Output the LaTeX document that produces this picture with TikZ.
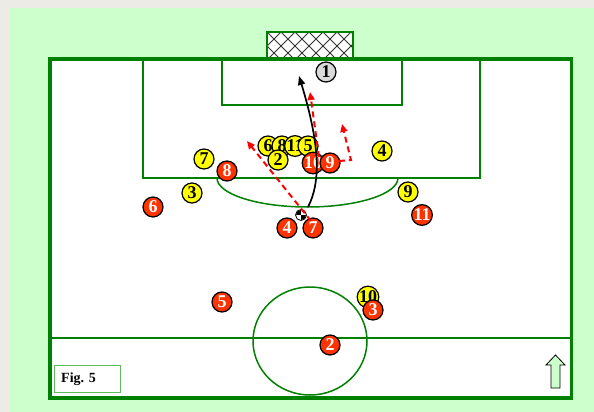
\documentclass[tikz,border=0pt]{standalone}
\usepackage{fontspec}
\setmainfont{Liberation Serif}
\usetikzlibrary{arrows.meta}
\definecolor{bggray}{HTML}{ECEBE6}
\definecolor{lgreen}{HTML}{CCFFCC}
\definecolor{fgreen}{HTML}{008000}
\definecolor{boxgreen}{HTML}{5DBB5D}
\definecolor{pyel}{HTML}{FFFF00}
\definecolor{pred}{HTML}{FF3300}
\definecolor{pgray}{HTML}{D9D9D9}
\definecolor{dred}{HTML}{FF0000}
\begin{document}
\begin{tikzpicture}[x=1pt,y=-1pt,
 player/.style={circle,draw=black,line width=1.2pt,minimum size=20pt,inner sep=0pt,font=\fontsize{18}{18}\selectfont\bfseries},
 yelp/.style={player,fill=pyel,text=black},
 redp/.style={player,fill=pred,text=white},
 grayp/.style={player,fill=pgray,text=black},
 fline/.style={draw=fgreen,line width=1.5pt},
 run/.style={draw=dred,line width=2pt,dash pattern=on 6pt off 4pt,-{Triangle[length=8pt,width=7pt]}},
 shot/.style={draw=black,line width=1.7pt,-{Triangle[length=9pt,width=7pt]}}]
\useasboundingbox (0,0) rectangle (594,412);
% backgrounds
\fill[bggray] (0,0) rectangle (594,412);
\fill[lgreen] (10,8) rectangle (594,412);
% goal
\fill[white] (267,32) rectangle (353,59);
\begin{scope}
\clip (267,32) rectangle (353,59);
\foreach \i in {-3,...,8} {
  \draw[black!80,line width=0.8pt] (267+\i*14,32) -- ++(28,28);
  \draw[black!80,line width=0.8pt] (267+\i*14,60) -- ++(28,-28);
}
\end{scope}
\draw[fline] (267,59) -- (267,32) -- (353,32) -- (353,59);
% field
\fill[white] (50,59) rectangle (571.5,398);
\begin{scope}
\clip (50,59) rectangle (571.5,398);
\draw[fline] (310,341) ellipse [x radius=57, y radius=54];
\end{scope}
\draw[fline] (143,59) rectangle (480,178);
\draw[fline] (222,59) rectangle (402,105);
\draw[fline] (50,338) -- (571.5,338);
\draw[fline] (217,178) arc [start angle=180, end angle=360, x radius=90.5, y radius=-29];
\draw[draw=fgreen,line width=3.5pt] (50,59) rectangle (571.5,398);
% figure label
\draw[draw=boxgreen,line width=1pt,fill=white] (54,365) rectangle (120,392);
\node[anchor=west,inner sep=0pt,font=\fontsize{14}{14}\selectfont\bfseries] (fig) at (61,379) {Fig. 5};
% direction arrow
\draw[fill=lgreen,draw=black,line width=0.8pt] (551,388) -- (551,365) -- (546,365) -- (555.5,355) -- (565,365) -- (560,365) -- (560,388) -- cycle;
% players
\node[grayp] (g1) at (326,72) {1};
\node[yelp] (y7) at (204,159) {7};
\node[yelp] (y3) at (192,193) {3};
\node[yelp] (y6) at (268,146) {6};
\node[yelp] (y8) at (282,146) {8};
\node[yelp] (y11) at (295,146) {11};
\node[yelp] (y5) at (308,146) {5};
\node[yelp] (y2) at (278,160) {2};
\node[yelp] (y4) at (382,151) {4};
\node[yelp] (y9) at (408,192) {9};
\node[yelp] (y10) at (368,297) {10};
\node[redp] (r8) at (227,171) {8};
\node[redp] (r6) at (153,207) {6};
\node[redp] (r10) at (313,163) {10};
\node[redp] (r9) at (330,163) {9};
\node[redp] (r4) at (287,228) {4};
\node[redp] (r7) at (313,228) {7};
\node[redp] (r11) at (422,215) {11};
\node[redp] (r5) at (222,302) {5};
\node[redp] (r3) at (373,310) {3};
\node[redp] (r2) at (330,345) {2};
% ball
\node[circle,draw=black,line width=0.8pt,fill=white,minimum size=11pt,inner sep=0pt] (ball) at (301,215) {};
\begin{scope}
\clip (ball.center) circle (5pt);
\fill[black] (ball.center) rectangle ++(-6,-6);
\fill[black] (ball.center) rectangle ++(6,6);
\end{scope}
% movements
\coordinate (s1) at (311,221);
\coordinate (e1) at (247,141);
\coordinate (s2) at (319,157);
\coordinate (e2) at (310,92);
\coordinate (s3a) at (339,161);
\coordinate (s3b) at (351,160);
\coordinate (e3) at (342,124);
\coordinate (bs) at (308,207);
\coordinate (be) at (299,76);
\draw[run] (s1) -- (e1);
\draw[run] (s2) -- (e2);
\draw[run] (s3a) -- (s3b) -- (e3);
\draw[shot] (bs) .. controls (321,182) and (320,145) .. (be);
\end{tikzpicture}
\end{document}
